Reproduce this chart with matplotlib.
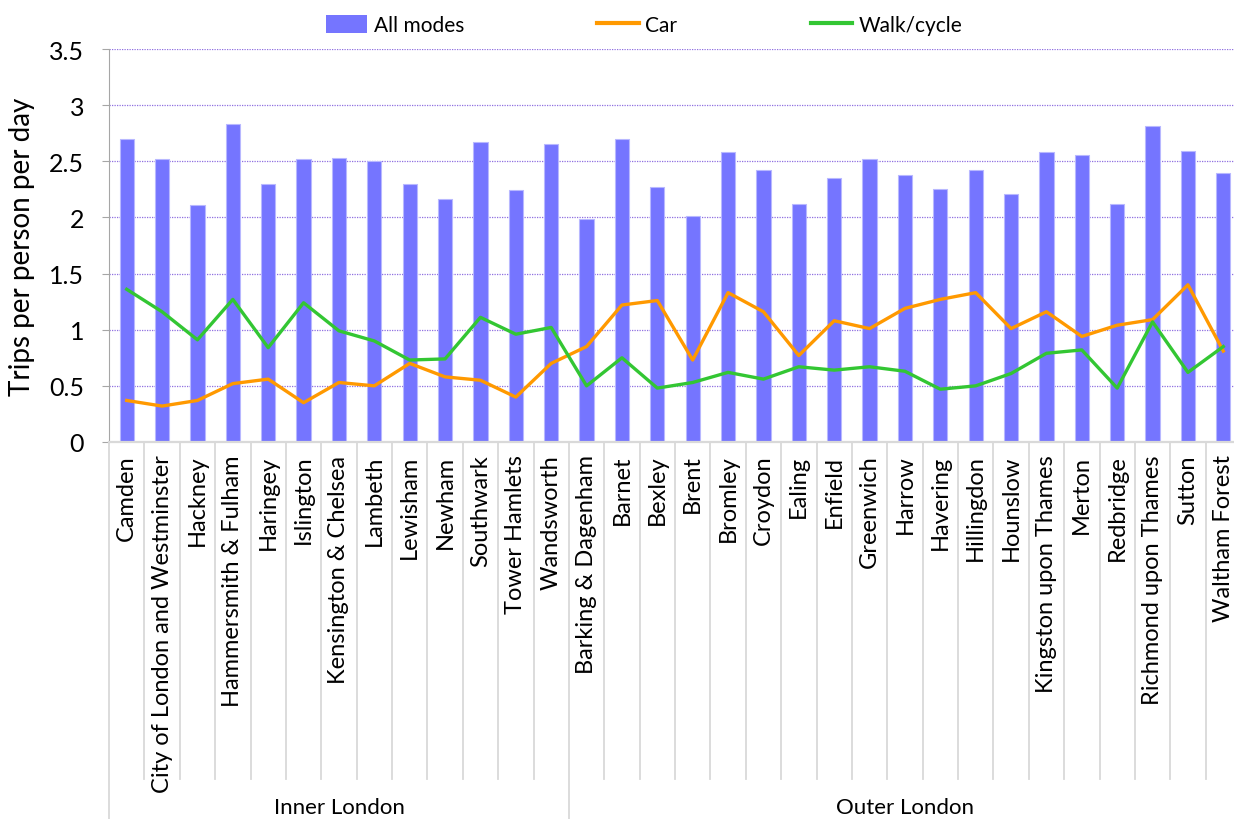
import matplotlib
matplotlib.use("Agg")
import matplotlib.pyplot as plt
import matplotlib.transforms as mtransforms
from matplotlib.patches import Patch
from matplotlib.lines import Line2D
import numpy as np

plt.rcParams['font.family'] = ['Lato', 'DejaVu Sans']

# Daten
boroughs = ["Camden", "City of London and Westminster", "Hackney", "Hammersmith & Fulham",
            "Haringey", "Islington", "Kensington & Chelsea", "Lambeth", "Lewisham", "Newham",
            "Southwark", "Tower Hamlets", "Wandsworth",
            "Barking & Dagenham", "Barnet", "Bexley", "Brent", "Bromley", "Croydon", "Ealing",
            "Enfield", "Greenwich", "Harrow", "Havering", "Hillingdon", "Hounslow",
            "Kingston upon Thames", "Merton", "Redbridge", "Richmond upon Thames", "Sutton",
            "Waltham Forest"]
groups = ["Inner London", "Outer London"]
group_sizes = [13, 19]

all_modes = [2.70, 2.52, 2.11, 2.83, 2.30, 2.52, 2.53, 2.50, 2.30, 2.16, 2.67, 2.24, 2.65,
             1.99, 2.70, 2.27, 2.01, 2.58, 2.42, 2.12, 2.35, 2.52, 2.38, 2.25, 2.42, 2.21,
             2.58, 2.56, 2.12, 2.81, 2.59, 2.40]
car = [0.37, 0.32, 0.37, 0.52, 0.56, 0.35, 0.53, 0.50, 0.70, 0.58, 0.55, 0.40, 0.70,
       0.85, 1.22, 1.26, 0.73, 1.33, 1.16, 0.77, 1.08, 1.01, 1.19, 1.27, 1.33, 1.01,
       1.16, 0.94, 1.04, 1.09, 1.40, 0.81]
walk_cycle = [1.36, 1.16, 0.91, 1.27, 0.84, 1.24, 0.99, 0.90, 0.73, 0.74, 1.11, 0.96, 1.02,
              0.50, 0.75, 0.48, 0.53, 0.62, 0.56, 0.67, 0.64, 0.67, 0.63, 0.47, 0.50, 0.61,
              0.79, 0.82, 0.48, 1.07, 0.62, 0.85]

x = np.arange(len(boroughs))

fig = plt.figure(figsize=(12.34, 8.2), dpi=100)
ax = fig.add_axes([109/1234, 377/820, 1132/1234, 393/820])

ax.bar(x, all_modes, width=0.4, color='#7575FF', edgecolor='#B8B8FF', linewidth=0.8,
       zorder=2, label='All modes')
ax.plot(x, car, color='#FF9900', linewidth=2.4, zorder=3, label='Car')
ax.plot(x, walk_cycle, color='#33C633', linewidth=2.4, zorder=3, label='Walk/cycle')

ax.set_xlim(-0.5, len(boroughs) - 0.5)
ax.set_ylim(0, 3.5)
ax.set_yticks(np.arange(0, 3.51, 0.5))
ax.set_yticklabels(['0', '0.5', '1', '1.5', '2', '2.5', '3', '3.5'], fontsize=18)
ax.yaxis.grid(True, color='#8F6FE0', linestyle=(0, (1, 1)), linewidth=0.9, zorder=0)
ax.set_axisbelow(True)

ax.set_xticks(x)
ax.set_xticklabels(boroughs, rotation=90, fontsize=17)
ax.tick_params(axis='x', length=0, pad=9)
ax.tick_params(axis='y', length=5, color='#A6A6A6', pad=13)

for s in ['top', 'right']:
    ax.spines[s].set_visible(False)
ax.spines['left'].set_color('#A6A6A6')
ax.spines['bottom'].set_color('#D9D9D9')
ax.spines['bottom'].set_linewidth(1.6)

ax.set_ylabel('Trips per person per day', fontsize=20, labelpad=10)

# Trennlinien unter der Achse
trans = mtransforms.blended_transform_factory(ax.transData, ax.transAxes)
tick_bottom = -(780 - 443) / 393
sep_bottom = -(822 - 443) / 393
bounds = np.cumsum([0] + group_sizes) - 0.5
for b in np.arange(len(boroughs)) - 0.5:
    if b in bounds:
        continue
    ax.plot([b, b], [0, tick_bottom], transform=trans, color='#D9D9D9', linewidth=1.3,
            clip_on=False)
for b in bounds[:-1]:
    ax.plot([b, b], [0, sep_bottom], transform=trans, color='#D9D9D9', linewidth=1.3,
            clip_on=False)

start = 0
for g, n in zip(groups, group_sizes):
    ax.text(start + (n - 1) / 2, -(808 - 443) / 393, g, transform=trans, ha='center',
            va='center', fontsize=16)
    start += n

handles = [Patch(facecolor='#7575FF', edgecolor='none'),
           Line2D([], [], color='#FF9900', linewidth=3),
           Line2D([], [], color='#33C633', linewidth=3)]
fig.legend(handles, ['All modes', 'Car', 'Walk/cycle'], loc='center',
           bbox_to_anchor=(644/1234, 1 - 26/820), ncol=3, frameon=False, fontsize=15,
           columnspacing=6.4, handlelength=2.0, handleheight=1.0, handletextpad=0.3)

fig.savefig('out.png', dpi=100)
